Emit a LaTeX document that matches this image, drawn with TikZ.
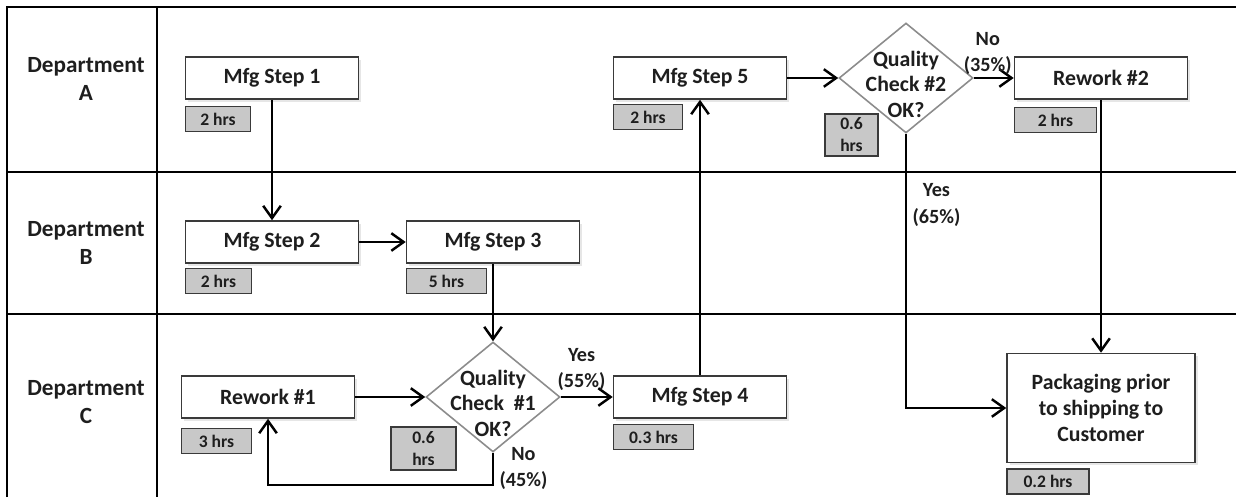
\documentclass[tikz,border=0pt]{standalone}
\usepackage{fontspec}
\setmainfont{Carlito}
\usepackage{tikz}
\usetikzlibrary{positioning,shapes.geometric,arrows.meta,shadows}
\definecolor{boxline}{HTML}{3A3A3A}
\definecolor{timefill}{HTML}{C8C8C8}
\definecolor{checkline}{HTML}{8C8C8C}
\definecolor{inkgray}{HTML}{1E1E1E}

\begin{document}
\begin{tikzpicture}[x=0.02cm, y=-0.02cm, >={Straight Barb[length=7pt,width=10pt]}, every node/.style={font=\bfseries\fontsize{12.4}{14.5}\selectfont, text=inkgray}]
\tikzstyle{lane}=[line width=1.6pt]
\tikzstyle{dept}=[align=center, font=\bfseries\fontsize{13.2}{16}\selectfont]
\tikzstyle{stepbox}=[rectangle, draw=boxline, line width=0.9pt, fill=white, minimum width=3.46cm, minimum height=0.84cm, drop shadow={opacity=0.2, shadow xshift=1.5pt, shadow yshift=-1.5pt}]
\tikzstyle{timebox}=[rectangle, draw=boxline, line width=0.9pt, fill=timefill, minimum height=0.5cm, inner sep=1pt, align=center, font=\bfseries\fontsize{10}{12.5}\selectfont]
\tikzstyle{check}=[diamond, draw=checkline, line width=0.9pt, fill=white, minimum width=2.68cm, minimum height=2.2cm, inner sep=0pt]
\tikzstyle{flowlabel}=[align=center, inner sep=1pt, font=\bfseries\fontsize{11.5}{15}\selectfont]
\tikzstyle{arr}=[->, line width=1.4pt]
\useasboundingbox (0,0) rectangle (1236,497);
% lanes
\draw[lane] (7,497) |- (1236,7);
\draw[lane] (157,7) -- (157,497);
\draw[lane] (7,172) -- (1236,172);
\draw[lane] (7,314) -- (1236,314);
\node[dept] (deptA) at (86,79) {Department\\A};
\node[dept] (deptB) at (86,243) {Department\\B};
\node[dept] (deptC) at (86,402) {Department\\C};
% steps
\node[stepbox] (s1) at (272,78) {Mfg Step 1};
\node[stepbox] (s2) at (272,242) {Mfg Step 2};
\node[stepbox] (s3) at (493,242) {Mfg Step 3};
\node[stepbox] (r1) at (268,397) {Rework \#1};
\node[check, label={[align=center, yshift=-0.12cm]center:Quality\\Check~ \#1\\OK?}] (q1) at (493,397) {};
\node[stepbox] (s4) at (700,397) {Mfg Step 4};
\node[stepbox] (s5) at (700,78) {Mfg Step 5};
\node[check, label={[align=center, yshift=-0.12cm]center:Quality\\Check \#2\\OK?}] (q2) at (906,78) {};
\node[stepbox] (r2) at (1101,78) {Rework \#2};
\node[stepbox, minimum width=3.76cm, minimum height=2.18cm, align=center, font=\bfseries\fontsize{12.4}{14.8}\selectfont] (pack) at (1101,408) {Packaging prior\\to shipping to\\Customer};
% times
\node[timebox, minimum width=1.30cm, below right=0.12cm and 0cm of s1.south west] (t1) {2 hrs};
\node[timebox, minimum width=1.32cm, below right=0.08cm and 0cm of s2.south west] (t2) {2 hrs};
\node[timebox, minimum width=1.60cm, below right=0.08cm and 0cm of s3.south west] (t3) {5 hrs};
\node[timebox, minimum width=1.40cm, below right=0.18cm and 0cm of r1.south west] (tr1) {3 hrs};
\node[timebox, minimum width=1.60cm, below right=0.1cm and 0cm of s4.south west] (t4) {0.3 hrs};
\node[timebox, minimum width=1.38cm, below right=0.08cm and 0cm of s5.south west] (t5) {2 hrs};
\node[timebox, minimum width=1.64cm, below right=0.14cm and 0cm of r2.south west] (tr2) {2 hrs};
\node[timebox, minimum width=1.64cm, below right=0.1cm and 0cm of pack.south west] (tpack) {0.2 hrs};
\node[timebox, minimum width=1.30cm, minimum height=0.86cm] (tq1) at (423.5,448.5) {0.6\\hrs};
\node[timebox, minimum width=1.06cm, minimum height=0.84cm] (tq2) at (851.5,135) {0.6\\hrs};
% flow
\draw[arr] (s1) -- (s2);
\draw[arr] (s2) -- (s3);
\draw[arr] (s3) -- (q1);
\draw[arr] (r1) -- (q1);
\draw[arr] (q1) -- node[flowlabel, above=2pt, pos=0.4] {Yes\\(55\%)} (s4);
\draw[arr] (q1.south) -- node[flowlabel, right=2pt] {No\\(45\%)} ++(0,32) -| (r1.south);
\draw[arr] (s4) -- (s5);
\draw[arr] (s5) -- (q2);
\draw[arr] (q2) -- node[flowlabel, above, pos=0.35] {No\\(35\%)} (r2);
\draw[arr] (q2.south) -- node[flowlabel, right=2pt, pos=0.26] {Yes\\(65\%)} (q2.south |- pack.west) -- (pack.west);
\draw[arr] (r2) -- (pack);
\end{tikzpicture}
\end{document}
